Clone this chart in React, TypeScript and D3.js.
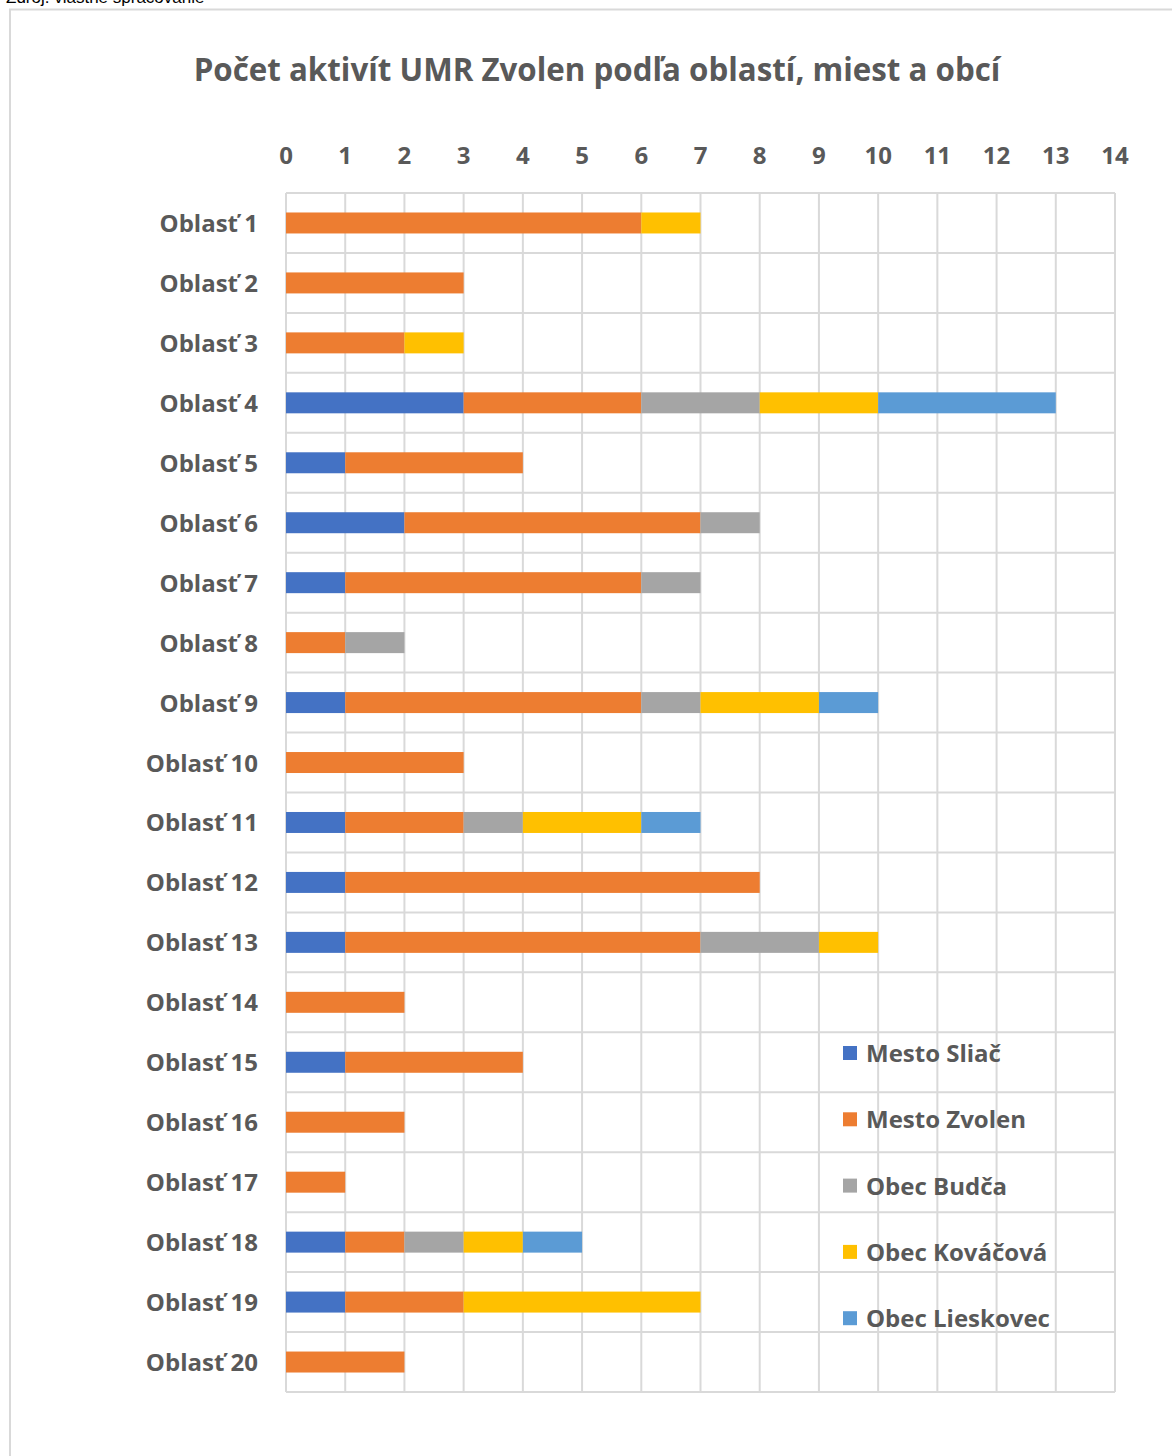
import React from "react";
import * as d3 from "d3";

const categories = Array.from({ length: 20 }, (_, i) => `Oblasť ${i + 1}`);
const seriesNames = ["Mesto Sliač", "Mesto Zvolen", "Obec Budča", "Obec Kováčová", "Obec Lieskovec"];
const colors = ["#4472C4", "#ED7D31", "#A5A5A5", "#FFC000", "#5B9BD5"];
const sliac = [0, 0, 0, 3, 1, 2, 1, 0, 1, 0, 1, 1, 1, 0, 1, 0, 0, 1, 1, 0];
const zvolen = [6, 3, 2, 3, 3, 5, 5, 1, 5, 3, 2, 7, 6, 2, 3, 2, 1, 1, 2, 2];
const budca = [0, 0, 0, 2, 0, 1, 1, 1, 1, 0, 1, 0, 2, 0, 0, 0, 0, 1, 0, 0];
const kovacova = [1, 0, 1, 2, 0, 0, 0, 0, 2, 0, 2, 0, 1, 0, 0, 0, 0, 1, 4, 0];
const lieskovec = [0, 0, 0, 3, 0, 0, 0, 0, 1, 0, 1, 0, 0, 0, 0, 0, 0, 1, 0, 0];
const xTicks = d3.range(0, 15);

const W = 1172, H = 1456;
const left = 286, right = 1115, top = 193, bottom = 1392;
const FONT = "'Open Sans', 'Noto Sans', sans-serif";
const TXT = "#595959";
const GRID = "#D9D9D9";

export default function App() {
  const x = d3.scaleLinear().domain([0, 14]).range([left, right]);
  const y = d3.scaleBand().domain(categories).range([top, bottom]).paddingInner(0.65).paddingOuter(0.325);
  const band = d3.scaleBand().domain(categories).range([top, bottom]);
  const rows = categories.map((c, i) => ({
    cat: c, Sliac: sliac[i], Zvolen: zvolen[i], Budca: budca[i], Kov: kovacova[i], Lies: lieskovec[i],
  }));
  const keys = ["Sliac", "Zvolen", "Budca", "Kov", "Lies"];
  const stacked = d3.stack<any>().keys(keys)(rows);

  return (
    <div style={{ position: "absolute", left: 0, top: 0 }}>
      <svg width={W} height={H} style={{ display: "block" }}>
        <rect x={0} y={0} width={W} height={H} fill="#fff" />
        <text x={6} y={3} fontFamily="Arial, 'Liberation Sans', sans-serif" fontSize={17} fill="#000">Zdroj: vlastné spracovanie</text>
        <rect x={10} y={9.5} width={W + 20} height={H + 20} fill="#fff" stroke="#D9D9D9" strokeWidth={2} />
        <text x={597} y={81} textAnchor="middle" fontFamily={FONT} fontSize={31.3} fontWeight={700} fill={TXT}>
          Počet aktivít UMR Zvolen podľa oblastí, miest a obcí
        </text>
        {/* grid */}
        {xTicks.map((t) => (
          <line key={"v" + t} x1={x(t)} x2={x(t)} y1={top} y2={bottom} stroke={GRID} strokeWidth={2} />
        ))}
        {categories.map((c) => (
          <line key={"h" + c} x1={left} x2={right} y1={band(c)!} y2={band(c)!} stroke={GRID} strokeWidth={2} />
        ))}
        <line x1={left} x2={right} y1={bottom} y2={bottom} stroke={GRID} strokeWidth={2} />
        {xTicks.map((t) => (
          <text key={"t" + t} x={x(t)} y={164} textAnchor="middle" fontFamily={FONT} fontSize={24} fontWeight={700} fill={TXT}>
            {t}
          </text>
        ))}
        {categories.map((c) => (
          <text key={"c" + c} x={258} y={band(c)! + band.bandwidth() / 2 + 9} textAnchor="end" fontFamily={FONT} fontSize={24} fontWeight={700} fill={TXT}>
            {c}
          </text>
        ))}
        {stacked.map((s, si) => (
          <g key={s.key} fill={colors[si]}>
            {s.map((d, i) =>
              d[1] - d[0] > 0 ? (
                <rect key={i} x={x(d[0])} y={y(categories[i])!} width={x(d[1]) - x(d[0])} height={y.bandwidth()} />
              ) : null
            )}
          </g>
        ))}
        {seriesNames.map((n, i) => (
          <g key={n} transform={`translate(843, ${1053 + i * 66.3})`}>
            <rect x={0} y={-7} width={14} height={14} fill={colors[i]} />
            <text x={23} y={9} fontFamily={FONT} fontSize={24} fontWeight={700} fill={TXT}>{n}</text>
          </g>
        ))}
      </svg>
    </div>
  );
}
